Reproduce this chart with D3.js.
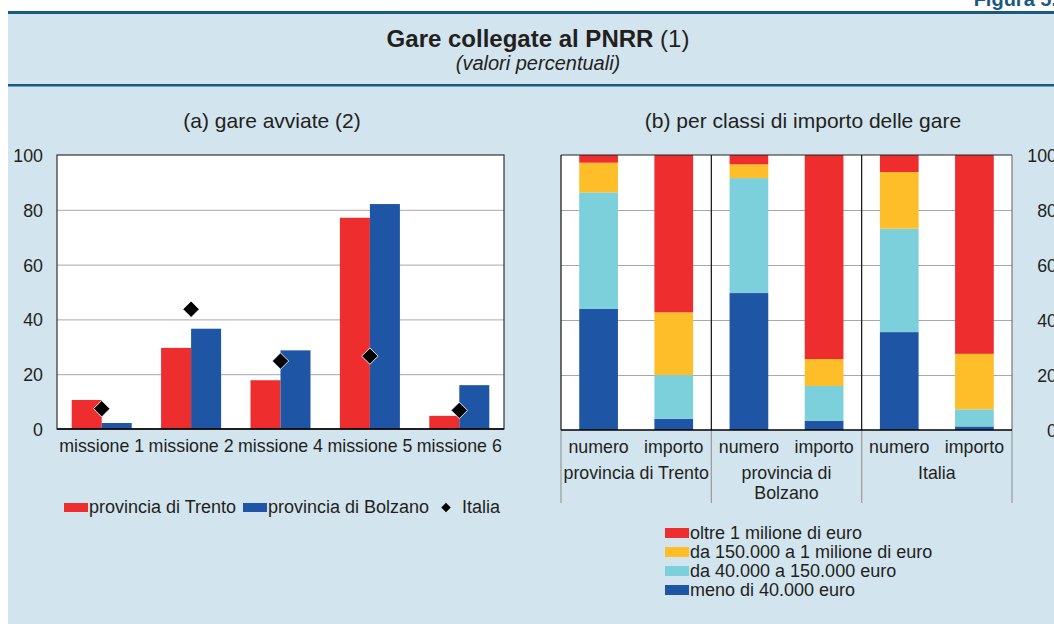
<!DOCTYPE html>
<html>
<head>
<meta charset="utf-8">
<script src="https://cdn.jsdelivr.net/npm/d3@7"></script>
<style>
  html, body { margin: 0; padding: 0; background: #fff; }
  svg { display: block; font-family: "Liberation Sans", Arial, sans-serif; }
  text { fill: #231f20; }
</style>
</head>
<body>
<svg id="chart" width="1054" height="624"></svg>
<script>
// ---- data ----
const missions = ["missione 1", "missione 2", "missione 4", "missione 5", "missione 6"];
const trento = [10.6, 29.6, 17.8, 77.1, 4.8];
const bolzano = [2.2, 36.6, 28.7, 82.1, 16.0];
const italia = [7.4, 43.7, 24.8, 26.6, 6.8];
const seriesNamesA = ["provincia di Trento", "provincia di Bolzano", "Italia"];

const groupLabels = [["provincia di Trento"], ["provincia di", "Bolzano"], ["Italia"]];
const measures = ["numero", "importo"];
const classNames = ["meno di 40.000 euro", "da 40.000 a 150.000 euro", "da 150.000 a 1 milione di euro", "oltre 1 milione di euro"];
// one value per bar: Trento numero, Trento importo, Bolzano numero, Bolzano importo, Italia numero, Italia importo
const meno40 = [44.0, 4.1, 49.8, 3.4, 35.6, 1.3];
const da40a150 = [42.4, 15.9, 41.8, 12.6, 37.6, 6.2];
const da150a1m = [10.8, 22.8, 5.0, 9.8, 20.6, 20.2];
const oltre1m = [2.8, 57.2, 3.4, 74.2, 6.2, 72.3];

const yTicks = [0, 20, 40, 60, 80, 100];

// ---- styles ----
const RED = "#ee2d2f", BLUE = "#1f55a5", YELLOW = "#fdbe29", CYAN = "#7bd0dc";
const NAVY = "#1b5a7f", PANEL = "#d2e4ee", GRID = "#a8a8a8";
const FS = 17.8;

const svg = d3.select("#chart");

// panel background and rules
svg.append("rect").attr("x", 8).attr("y", 12).attr("width", 1046).attr("height", 612).attr("fill", PANEL);
svg.append("rect").attr("x", 8).attr("y", 11).attr("width", 1046).attr("height", 3).attr("fill", NAVY);
svg.append("rect").attr("x", 8).attr("y", 84).attr("width", 1046).attr("height", 2.5).attr("fill", NAVY);

svg.append("text").attr("x", 1057).attr("y", 6).attr("text-anchor", "end")
  .attr("font-weight", "bold").attr("font-size", 20).style("fill", NAVY).text("Figura 5.");

const title = svg.append("text").attr("x", 538).attr("y", 47).attr("text-anchor", "middle").attr("font-size", 24);
title.append("tspan").attr("font-weight", "bold").text("Gare collegate al PNRR");
title.append("tspan").text(" (1)");
svg.append("text").attr("x", 538).attr("y", 70).attr("text-anchor", "middle")
  .attr("font-size", 20).attr("font-style", "italic").text("(valori percentuali)");

svg.append("text").attr("x", 272).attr("y", 128).attr("text-anchor", "middle").attr("font-size", 21).text("(a) gare avviate (2)");
svg.append("text").attr("x", 803).attr("y", 128).attr("text-anchor", "middle").attr("font-size", 21).text("(b) per classi di importo delle gare");

// ---- panel (a): grouped bars ----
const A = { l: 57, r: 504, t: 155, b: 429 };
const yA = d3.scaleLinear().domain([0, 100]).range([A.b, A.t]);
const x0 = d3.scaleBand().domain(missions).range([A.l, A.r]);
const x1 = d3.scaleBand().domain(["trento", "bolzano"]).range([0, x0.bandwidth()]).paddingOuter(0.49);

const gA = svg.append("g");
gA.append("rect").attr("x", A.l).attr("y", A.t).attr("width", A.r - A.l).attr("height", A.b - A.t).attr("fill", "#fff");
gA.append("g").attr("transform", `translate(${A.l},0)`)
  .call(d3.axisLeft(yA).tickValues(yTicks.slice(1, -1)).tickSize(-(A.r - A.l)).tickFormat(""))
  .call(g => g.select(".domain").remove())
  .call(g => g.selectAll("line").attr("stroke", GRID));

const rowsA = missions.map((m, i) => ({ m, trento: trento[i], bolzano: bolzano[i], italia: italia[i] }));
const grp = gA.selectAll("g.mis").data(rowsA).join("g").attr("class", "mis")
  .attr("transform", d => `translate(${x0(d.m)},0)`);
grp.selectAll("rect").data(d => [["trento", d.trento], ["bolzano", d.bolzano]]).join("rect")
  .attr("x", d => x1(d[0])).attr("width", x1.bandwidth())
  .attr("y", d => yA(d[1])).attr("height", d => yA(0) - yA(d[1]))
  .attr("fill", d => d[0] === "trento" ? RED : BLUE);

const diamond = d3.symbol().type(d3.symbolSquare).size(135);
gA.selectAll("path.it").data(rowsA).join("path").attr("class", "it")
  .attr("d", diamond)
  .attr("transform", d => `translate(${x0(d.m) + x0.bandwidth() / 2},${yA(d.italia)}) rotate(45)`)
  .attr("fill", "#000").attr("stroke", "#fff").attr("stroke-width", 0.8);

gA.append("rect").attr("x", A.l).attr("y", A.t).attr("width", A.r - A.l).attr("height", A.b - A.t)
  .attr("fill", "none").attr("stroke", "#333").attr("stroke-width", 1.2);
gA.append("line").attr("x1", A.l).attr("x2", A.r).attr("y1", A.b).attr("y2", A.b).attr("stroke", "#000").attr("stroke-width", 1.5);

gA.append("g").attr("transform", `translate(${A.l},0)`)
  .call(d3.axisLeft(yA).tickValues(yTicks).tickSize(0).tickPadding(14))
  .call(g => g.select(".domain").remove())
  .call(g => g.selectAll("text").attr("font-size", FS).attr("dy", "0.36em").style("fill", "#231f20"));
gA.append("g").attr("transform", `translate(0,${A.b})`)
  .call(d3.axisBottom(x0).tickSize(0).tickPadding(10))
  .call(g => g.select(".domain").remove())
  .call(g => g.selectAll("text").attr("font-size", FS).style("fill", "#231f20"));

// legend (a)
const legA = svg.append("g").attr("font-size", 18);
legA.append("rect").attr("x", 64).attr("y", 503).attr("width", 24).attr("height", 9).attr("fill", RED);
legA.append("text").attr("x", 89).attr("y", 513).text(seriesNamesA[0]);
legA.append("rect").attr("x", 243).attr("y", 503).attr("width", 24).attr("height", 9).attr("fill", BLUE);
legA.append("text").attr("x", 268).attr("y", 513).text(seriesNamesA[1]);
legA.append("path").attr("d", d3.symbol().type(d3.symbolSquare).size(45))
  .attr("transform", "translate(446,507.5) rotate(45)").attr("fill", "#000");
legA.append("text").attr("x", 462).attr("y", 513).text(seriesNamesA[2]);

// ---- panel (b): stacked bars ----
const B = { l: 561, r: 1012, t: 155, b: 430 };
const yB = d3.scaleLinear().domain([0, 100]).range([B.b, B.t]);
const barKeys = groupLabels.flatMap((g, gi) => measures.map(m => gi + "|" + m));
const xB = d3.scaleBand().domain(barKeys).range([B.l, B.r]).paddingInner(0.485).paddingOuter(0.2425);
const groupW = (B.r - B.l) / groupLabels.length;

const rowsB = barKeys.map((k, i) => ({
  key: k, meno: meno40[i], da40: da40a150[i], da150: da150a1m[i], oltre: oltre1m[i]
}));
const stackKeys = ["meno", "da40", "da150", "oltre"];
const colors = { meno: BLUE, da40: CYAN, da150: YELLOW, oltre: RED };
const stacked = d3.stack().keys(stackKeys)(rowsB);

const gB = svg.append("g");
gB.append("rect").attr("x", B.l).attr("y", B.t).attr("width", B.r - B.l).attr("height", B.b - B.t).attr("fill", "#fff");
gB.append("g").attr("transform", `translate(${B.l},0)`)
  .call(d3.axisLeft(yB).tickValues(yTicks.slice(1, -1)).tickSize(-(B.r - B.l)).tickFormat(""))
  .call(g => g.select(".domain").remove())
  .call(g => g.selectAll("line").attr("stroke", GRID));

gB.selectAll("g.layer").data(stacked).join("g").attr("class", "layer")
  .attr("fill", d => colors[d.key])
  .selectAll("rect").data(d => d).join("rect")
  .attr("x", d => xB(d.data.key)).attr("width", xB.bandwidth())
  .attr("y", d => yB(d[1])).attr("height", d => yB(d[0]) - yB(d[1]));

// frame and group separators
gB.append("line").attr("x1", B.l).attr("x2", B.r).attr("y1", B.t).attr("y2", B.t).attr("stroke", "#222").attr("stroke-width", 1.2);
gB.append("line").attr("x1", B.r).attr("x2", B.r).attr("y1", B.t).attr("y2", B.b).attr("stroke", "#777").attr("stroke-width", 1.2);
d3.range(groupLabels.length).forEach(i => {
  const x = B.l + i * groupW;
  gB.append("line").attr("x1", x).attr("x2", x).attr("y1", B.t).attr("y2", B.b).attr("stroke", "#111").attr("stroke-width", 1.2);
});
d3.range(groupLabels.length + 1).forEach(i => {
  const x = B.l + i * groupW;
  gB.append("line").attr("x1", x).attr("x2", x).attr("y1", B.b).attr("y2", 503).attr("stroke", "#9a9a9a").attr("stroke-width", 1.2);
});
gB.append("line").attr("x1", B.l).attr("x2", B.r).attr("y1", B.b).attr("y2", B.b).attr("stroke", "#000").attr("stroke-width", 1.5);

// bar labels and group labels
gB.append("g").attr("transform", `translate(0,${B.b})`)
  .call(d3.axisBottom(xB).tickSize(0).tickPadding(10).tickFormat(k => k.split("|")[1]))
  .call(g => g.select(".domain").remove())
  .call(g => g.selectAll("text").attr("font-size", FS).style("fill", "#231f20"));
groupLabels.forEach((lines, i) => {
  const t = gB.append("text").attr("x", B.l + (i + 0.5) * groupW).attr("y", 479)
    .attr("text-anchor", "middle").attr("font-size", FS);
  lines.forEach((ln, j) => t.append("tspan").attr("x", B.l + (i + 0.5) * groupW).attr("dy", j ? 20 : 0).text(ln));
});

// right-hand value axis
gB.append("g").attr("transform", `translate(${B.r},0)`)
  .call(d3.axisRight(yB).tickValues(yTicks).tickSize(0))
  .call(g => g.select(".domain").remove())
  .call(g => g.selectAll("text").attr("x", 45).attr("text-anchor", "end")
    .attr("font-size", FS).attr("dy", "0.36em").style("fill", "#231f20"));

// legend (b), top row is the last stack layer
const legB = svg.append("g").attr("font-size", 18);
const legOrder = stackKeys.slice().reverse();
legOrder.forEach((k, i) => {
  const y = 533 + i * 19;
  legB.append("rect").attr("x", 665).attr("y", y - 5).attr("width", 24).attr("height", 10).attr("fill", colors[k]);
  legB.append("text").attr("x", 690).attr("y", y + 6).text(classNames[stackKeys.indexOf(k)]);
});
</script>
</body>
</html>
